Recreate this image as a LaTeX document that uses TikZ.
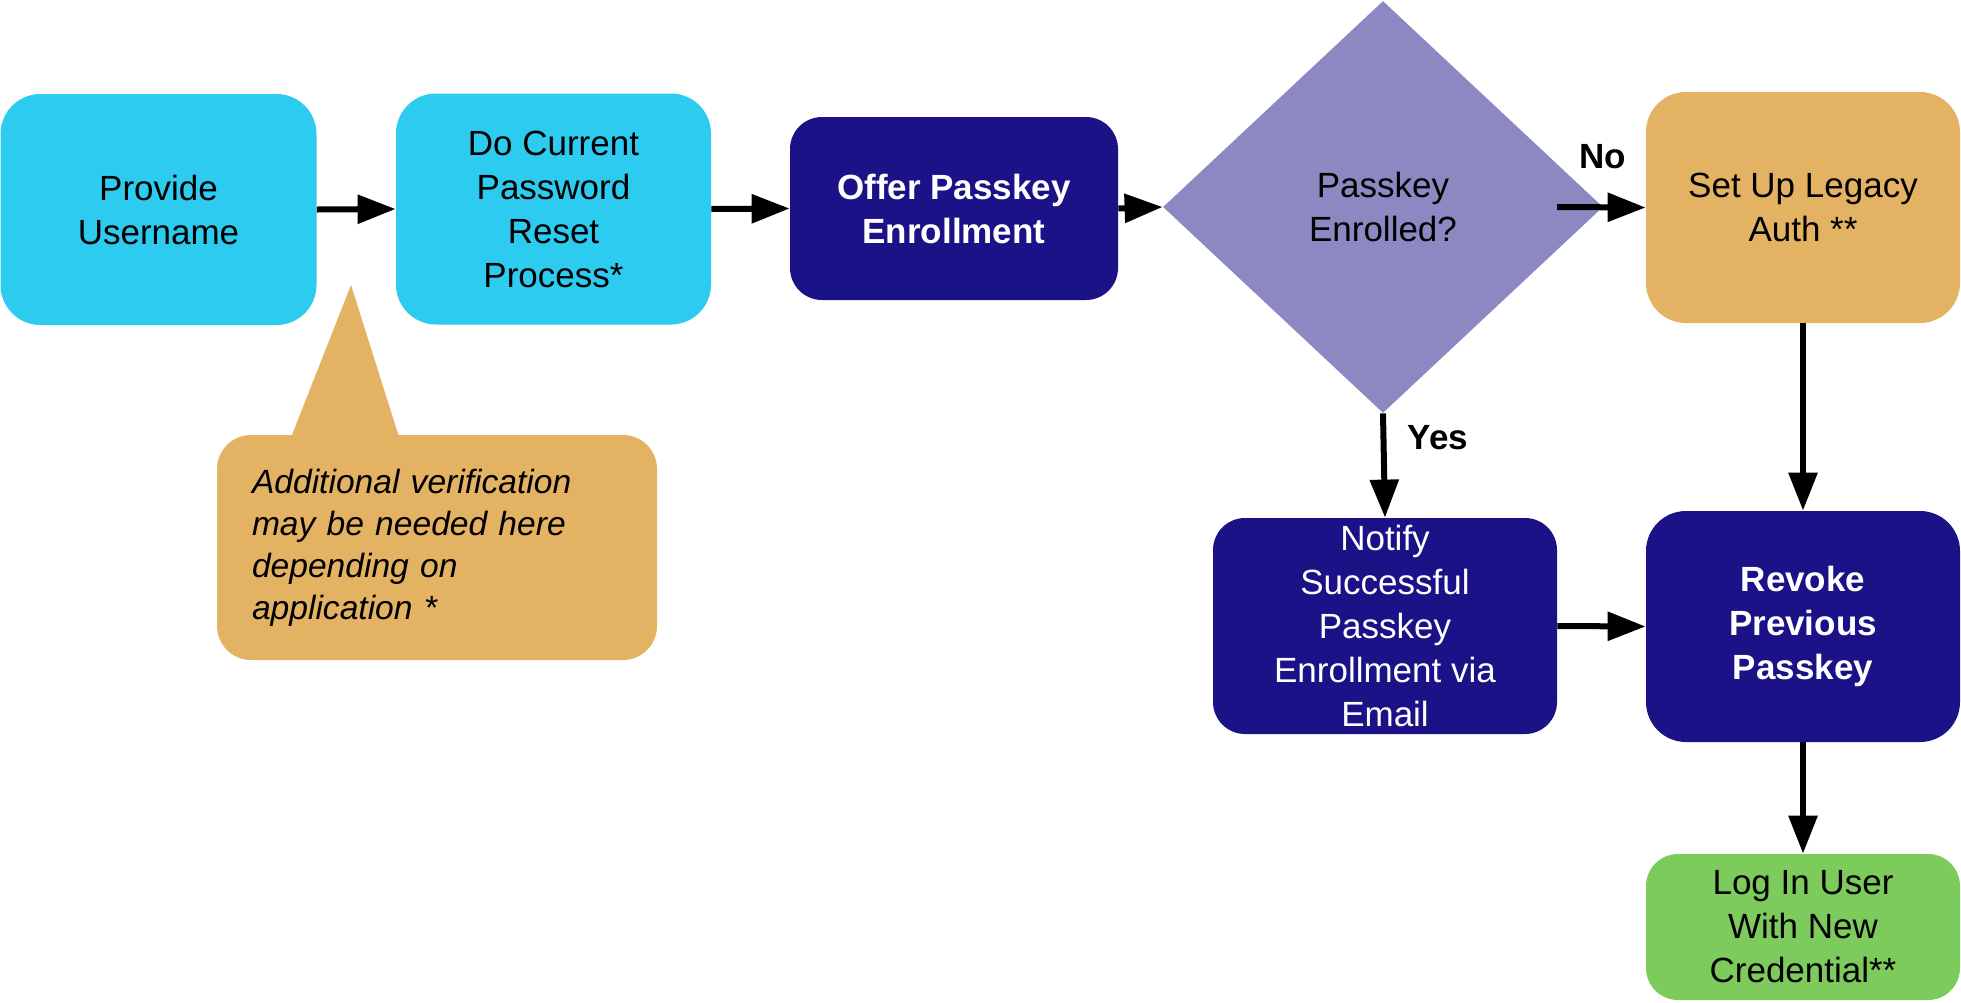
\documentclass[tikz,border=0pt]{standalone}
\usepackage{fontspec}
\setmainfont{Liberation Sans}
\usetikzlibrary{arrows.meta,shapes.geometric}
\definecolor{cyanbox}{HTML}{2ECBF1}
\definecolor{navy}{HTML}{1B1288}
\definecolor{lav}{HTML}{8B88C2}
\definecolor{gold}{HTML}{E4B263}
\definecolor{lgreen}{HTML}{7DCB5C}
\begin{document}
\begin{tikzpicture}[x=0.5pt,y=-0.5pt,
  box/.style={rectangle, rounded corners=20pt, inner sep=0pt, align=center,
    font=\fontsize{17.5}{22}\selectfont, text=black},
  cyanb/.style={box, fill=cyanbox, minimum width=158pt, minimum height=115.5pt},
  navyb/.style={box, fill=navy, text=white, rounded corners=16pt},
  goldb/.style={box, fill=gold, minimum width=157pt, minimum height=115.5pt},
  greenb/.style={box, fill=lgreen, minimum width=157pt, minimum height=73pt, rounded corners=16pt},
  decision/.style={diamond, fill=lav, inner sep=0pt, align=center, aspect=1.068,
    minimum width=220pt, minimum height=206pt, font=\fontsize{17.5}{22}\selectfont},
  lbl/.style={font=\fontsize{17.5}{22}\selectfont\bfseries},
  arr/.style={line width=3pt, -{Triangle[length=19pt,width=14pt]}},
]
\useasboundingbox (0,0) rectangle (1961,1002);

\node[cyanb] (user) at (158.5,209.5) {Provide\\Username};
\node[cyanb, minimum width=157.5pt] (reset) at (553.5,209) {Do Current\\Password\\Reset\\Process*};
\node[navyb, minimum width=164pt, minimum height=91.5pt, font=\fontsize{17.5}{22}\selectfont\bfseries] (offer) at (954,208.5) {Offer Passkey\\Enrollment};
\node[decision] (dec) at (1383,207) {Passkey\\Enrolled?};
\node[goldb] (legacy) at (1803,207.5) {Set Up Legacy\\Auth **};
\node[navyb, minimum width=172pt, minimum height=108pt] (notify) at (1385,626) {Notify\\Successful\\Passkey\\Enrollment via\\Email};
\node[navyb, rounded corners=20pt, minimum width=157pt, minimum height=115.5pt, font=\fontsize{17.5}{22}\selectfont\bfseries] (revoke) at (1803,626.5) {Revoke\\Previous\\Passkey};
\node[greenb] (login) at (1803,927) {Log In User\\With New\\Credential**};

% callout
\fill[gold] (351,285) -- (400,440) -- (290,440) -- cycle;
\node[box, fill=gold, rounded corners=17pt, align=left, text width=185pt, inner xsep=17.5pt,
  minimum width=220pt, minimum height=112.5pt, font=\fontsize{16.8}{21}\selectfont\itshape] (note) at (437,547.5)
  {Additional verification\\may be needed here\\depending on\\application *};

\coordinate (nostart) at (1557,207);

\draw[arr] (user.east) -- (reset.west);
\draw[arr] (reset.east) -- (offer.west);
\draw[arr] (offer.east) -- (dec.west);
\draw[arr] (nostart) -- (legacy.west);
\draw[arr] (dec.south) -- (notify.north);
\draw[arr] (legacy.south) -- (revoke.north);
\draw[arr] (notify.east) -- (revoke.west);
\draw[arr] (revoke.south) -- (login.north);

\node[lbl] (nolab) at (1603,157) {No};
\node[lbl] (yeslab) at (1438,438) {Yes};
\end{tikzpicture}
\end{document}
